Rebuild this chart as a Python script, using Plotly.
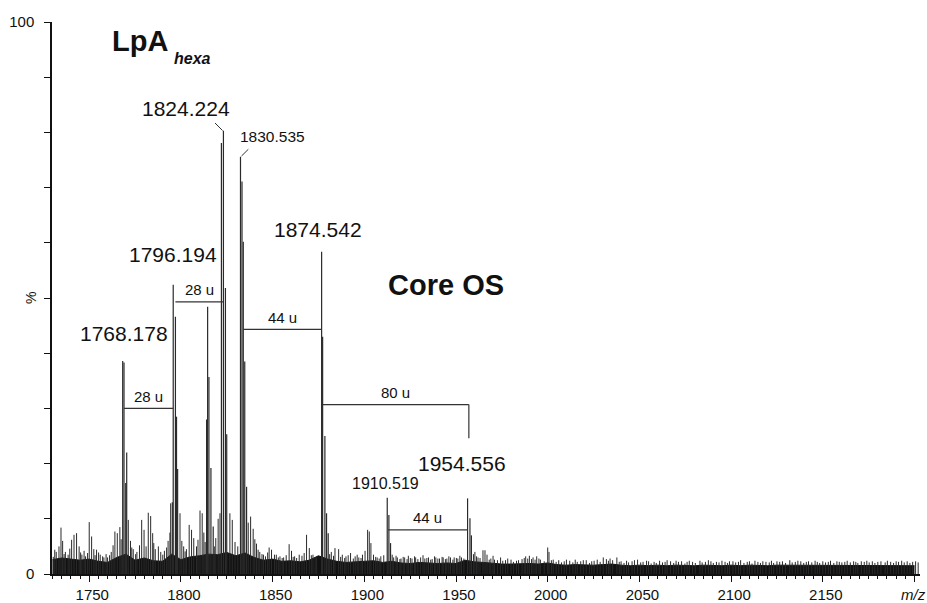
import plotly.graph_objects as go

# ---------------- data ----------------
# main peak sticks (m/z, relative intensity %)
peak_mz = [1768.25, 1768.96, 1769.90, 1770.43,
           1795.30, 1795.80, 1797.00, 1797.60, 1798.20,
           1814.00, 1814.56, 1815.27, 1816.36, 1817.60,
           1822.08, 1823.17, 1824.26, 1824.97,
           1832.48, 1833.30, 1834.00, 1834.80, 1835.80,
           1876.72, 1877.27, 1878.50, 1879.40, 1880.30,
           1912.50, 1913.40, 1914.30,
           1956.30, 1957.60, 1958.40]
peak_pct = [38.6, 38.3, 16.5, 22.0,
            13.0, 52.4, 46.6, 28.5, 19.0,
            28.0, 48.4, 35.7, 19.2, 8.6,
            78.1, 80.3, 51.8, 25.3,
            75.6, 71.1, 60.2, 38.5, 15.8,
            58.4, 43.0, 25.0, 11.0, 7.4,
            13.8, 10.7, 5.6,
            13.7, 10.1, 7.0]

# minor noise spikes
noise_mz = [1730.4, 1731.2, 1732.0, 1733.5, 1734.6, 1735.5, 1736.3, 1737.0, 1738.5, 1739.4,
            1740.4, 1741.7, 1743.1, 1744.5, 1745.3, 1746.0, 1747.2, 1748.0, 1749.1, 1750.0,
            1751.3, 1752.5, 1753.2, 1754.0, 1755.1, 1756.0, 1757.3, 1758.0, 1759.2, 1760.0,
            1761.1, 1762.0, 1763.0, 1764.0, 1765.3, 1766.7, 1767.4, 1771.3, 1772.5, 1773.2,
            1774.0, 1775.3, 1776.0, 1777.4, 1778.6, 1779.9, 1781.0, 1782.2, 1783.5, 1784.6,
            1785.2, 1786.0, 1787.7, 1789.0, 1790.1, 1791.0, 1792.2, 1793.0, 1794.0, 1794.4,
            1799.5, 1800.5, 1801.5, 1802.3, 1803.0, 1804.5, 1805.8, 1807.0, 1808.5, 1809.3,
            1810.4, 1811.6, 1812.5, 1813.2, 1818.2, 1819.0, 1820.3, 1821.3, 1826.7, 1828.0,
            1829.5, 1831.0, 1836.7, 1838.0, 1839.4, 1840.3, 1841.2, 1842.1, 1843.0, 1844.2,
            1845.0, 1846.1, 1847.3, 1848.1, 1849.4, 1851.0, 1852.0, 1853.1, 1854.0, 1855.2,
            1856.0, 1857.4, 1859.0, 1860.3, 1861.2, 1862.0, 1863.1, 1864.5, 1866.0, 1867.2,
            1868.5, 1870.0, 1871.1, 1872.0, 1873.2, 1874.0, 1881.1, 1882.0, 1883.2, 1884.0,
            1886.0, 1887.1, 1888.0, 1889.3, 1890.0, 1891.2, 1892.5, 1894.0, 1895.0, 1896.1,
            1897.0, 1898.2, 1899.0, 1900.4, 1901.8, 1902.7, 1903.6, 1905.0, 1906.2, 1907.0,
            1908.1, 1909.0, 1910.6, 1915.2, 1916.0, 1917.3, 1918.0, 1919.4, 1920.0, 1921.2,
            1922.0, 1923.3, 1924.0, 1925.1, 1926.0, 1927.4, 1928.0, 1929.2, 1930.7, 1932.0,
            1933.0, 1934.1, 1935.0, 1936.2, 1937.0, 1938.3, 1939.0, 1940.1, 1941.0, 1942.4,
            1943.0, 1944.2, 1945.0, 1946.1, 1947.0, 1948.3, 1949.0, 1950.2, 1951.0, 1952.1,
            1953.0, 1954.3, 1959.5, 1960.3, 1961.2, 1962.0, 1963.1, 1964.7, 1965.8, 1966.9,
            1968.1, 1969.0, 1970.2, 1971.0, 1972.6, 1974.3, 1975.5, 1977.0, 1978.2, 1980.0,
            1981.3, 1983.0, 1984.1, 1986.0, 1987.2, 1988.0, 1989.1, 1990.0, 1991.2, 1992.0,
            1993.1, 1994.0, 1995.2, 1996.0, 1998.1, 2000.0, 2000.7, 2002.0, 2003.0, 2004.6,
            2006.0, 2007.5, 2009.0, 2010.2, 2012.0, 2013.7, 2015.0, 2016.1, 2018.0, 2019.4,
            2021.0, 2022.8, 2024.0, 2025.3, 2027.0, 2028.6, 2030.3, 2032.0, 2033.1, 2034.0,
            2035.4, 2037.7, 2039.0, 2040.0, 2041.6, 2043.0, 2044.1, 2046.0, 2047.3, 2049.0,
            2050.7, 2052.0, 2053.9, 2055.0, 2056.4, 2058.0, 2059.2, 2061.0, 2062.6, 2064.0,
            2065.1, 2067.0, 2068.7, 2070.0, 2071.3, 2073.0, 2074.8, 2076.0, 2077.2, 2079.0,
            2080.5, 2083.0, 2084.2, 2086.0, 2087.6, 2089.0, 2090.3, 2092.0, 2093.4, 2095.0,
            2096.7, 2098.0, 2099.1, 2101.0, 2102.5, 2104.0, 2105.2, 2107.0, 2108.8, 2110.0,
            2111.4, 2113.0, 2114.6, 2116.0, 2117.3, 2119.0, 2120.8, 2122.0, 2123.2, 2125.0,
            2126.5, 2128.0, 2129.7, 2132.0, 2133.3, 2135.0, 2136.4, 2138.0, 2139.6, 2141.0,
            2142.2, 2144.0, 2145.8, 2147.0, 2148.3, 2150.0, 2151.5, 2153.0, 2154.2, 2156.0,
            2157.7, 2159.0, 2160.4, 2162.0, 2163.3, 2165.0, 2166.8, 2168.0, 2169.1, 2171.0,
            2172.6, 2174.0, 2175.3, 2177.0, 2178.4, 2180.0, 2181.7, 2184.0, 2185.2, 2187.0,
            2188.6, 2190.0, 2191.3, 2193.0, 2194.4, 2196.0, 2197.5, 2199.0, 2200.6, 2202.0]
noise_pct = [3.1, 4.4, 4.0, 5.0, 8.4, 6.0, 3.6, 4.0, 3.5, 4.6,
             6.2, 7.1, 7.4, 5.0, 3.9, 3.5, 4.2, 3.2, 3.8, 9.4,
             6.8, 4.5, 3.4, 4.4, 3.9, 3.5, 3.2, 3.0, 3.6, 3.0,
             3.4, 4.0, 5.2, 7.7, 7.4, 8.5, 6.3, 9.8, 6.0, 4.8,
             4.5, 3.6, 4.0, 5.2, 9.8, 8.0, 5.0, 11.1, 10.5, 7.4,
             5.6, 4.5, 5.0, 4.0, 3.5, 4.2, 4.8, 6.0, 7.5, 12.8,
             11.0, 6.0, 5.0, 4.1, 4.5, 8.9, 8.0, 6.5, 5.0, 6.2,
             11.5, 11.0, 7.5, 5.8, 5.0, 6.5, 10.0, 11.0, 11.0, 9.8,
             5.8, 5.0, 9.3, 10.4, 8.2, 6.3, 5.5, 4.4, 4.0, 3.6,
             3.5, 3.2, 3.9, 4.8, 4.4, 3.5, 3.5, 3.0, 3.2, 2.9,
             3.0, 3.4, 5.4, 4.2, 3.1, 3.2, 2.9, 3.5, 3.3, 3.8,
             7.1, 4.7, 3.4, 3.5, 2.9, 3.0, 3.6, 4.0, 3.3, 4.7,
             4.5, 3.1, 3.5, 2.9, 3.2, 3.4, 3.8, 2.8, 3.2, 3.5,
             3.0, 2.9, 3.5, 4.2, 8.0, 7.7, 5.6, 3.5, 3.1, 3.0,
             2.8, 3.2, 3.4, 3.5, 3.0, 3.3, 3.0, 2.7, 2.8, 3.1,
             3.0, 2.7, 3.3, 2.9, 2.8, 3.2, 3.0, 2.7, 3.0, 3.4,
             2.8, 2.9, 3.0, 2.6, 2.7, 3.2, 3.0, 2.8, 2.8, 3.1,
             3.0, 2.7, 2.8, 3.2, 3.0, 2.6, 3.0, 2.9, 2.8, 3.3,
             3.0, 2.8, 3.6, 4.0, 3.2, 3.0, 2.9, 4.3, 4.3, 3.5,
             2.6, 2.8, 3.3, 2.6, 2.5, 3.0, 2.4, 2.5, 2.8, 2.6,
             2.2, 2.4, 2.5, 2.7, 2.9, 3.2, 2.8, 3.3, 2.7, 3.0,
             2.6, 3.2, 2.8, 2.6, 2.3, 4.8, 4.0, 2.5, 2.6, 2.2,
             2.5, 2.1, 2.3, 2.6, 2.4, 2.1, 2.6, 2.2, 2.3, 2.5,
             2.5, 2.0, 2.3, 2.4, 2.6, 2.2, 3.0, 2.7, 2.4, 2.8,
             2.5, 3.0, 2.2, 2.3, 2.0, 2.4, 2.1, 2.3, 2.5, 2.6,
             2.1, 2.2, 2.4, 2.3, 1.9, 2.2, 2.0, 2.4, 2.1, 2.2,
             2.5, 2.3, 2.0, 2.4, 2.2, 2.3, 1.9, 2.2, 2.4, 2.2,
             2.0, 2.4, 2.1, 2.2, 2.5, 2.3, 2.0, 2.2, 2.1, 2.4,
             2.2, 2.0, 2.3, 2.3, 2.1, 2.2, 2.5, 2.0, 2.2, 2.3,
             1.9, 2.4, 2.2, 2.0, 2.3, 2.2, 2.1, 2.4, 2.0, 2.3,
             2.2, 2.3, 2.0, 2.5, 2.1, 2.2, 2.4, 2.3, 2.0, 2.2,
             2.3, 2.1, 2.4, 2.2, 2.0, 2.3, 2.1, 2.2, 2.4, 2.0,
             2.3, 2.2, 2.1, 2.2, 2.4, 2.1, 2.3, 2.2, 2.0, 2.3,
             2.2, 2.4, 2.1, 2.3, 2.0, 2.2, 2.3, 2.1, 2.4, 2.2,
             2.0, 2.3, 2.2, 2.4, 2.1, 2.3, 2.0, 2.2, 2.3, 2.1]

# dense baseline band (top of the black noise floor), every 5 m/z from 1730
band_start, band_step = 1730, 5
band_pct = [2.6, 2.9, 2.7, 2.5, 2.7, 2.3, 2.1, 3.0, 3.6, 2.5,
            2.9, 2.4, 2.3, 3.6, 2.6, 3.1, 3.3, 3.6, 3.5, 3.9,
            3.3, 3.8, 3.0, 2.5, 2.7, 2.3, 2.4, 2.2, 2.5, 3.3,
            2.7, 2.3, 2.1, 2.2, 2.3, 2.4, 2.1, 2.3, 2.0, 1.9,
            2.1, 2.0, 1.9, 2.0, 1.9, 2.5, 2.2, 2.1, 1.9, 1.8,
            1.8, 1.9, 1.9, 1.8, 2.0, 1.7, 1.6, 1.7, 1.6, 1.6,
            1.7, 1.8, 1.6, 1.5, 1.6, 1.5, 1.6, 1.5, 1.6, 1.5,
            1.5, 1.6, 1.5, 1.5, 1.6, 1.5, 1.6, 1.5, 1.5, 1.6,
            1.6, 1.5, 1.5, 1.6, 1.5, 1.6, 1.5, 1.5, 1.6, 1.5,
            1.5, 1.6, 1.5, 1.6, 1.5]

# labelled peaks
label_text = ["1768.178", "1796.194", "1824.224", "1830.535", "1874.542", "1910.519", "1954.556"]

# mass-difference brackets: (left m/z, right m/z, level %, label)
br_left = [1768.96, 1797.00, 1834.00, 1877.00, 1913.00]
br_right = [1795.80, 1823.17, 1876.72, 1957.00, 1956.30]
br_level = [30.0, 49.3, 44.3, 30.7, 8.0]
br_text = ["28 u", "28 u", "44 u", "80 u", "44 u"]

x_tickvals = [1750, 1800, 1850, 1900, 1950, 2000, 2050, 2100, 2150, 2200]
x_ticktext = ["1750", "1800", "1850", "1900", "1950", "2000", "2050", "2100", "2150", ""]
x_unit = "<i>m/z</i>"
y_tickvals = [0, 10, 20, 30, 40, 50, 60, 70, 80, 90, 100]
y_ticktext = ["0", "", "", "", "", "", "", "", "", "", "100"]

# ---------------- geometry ----------------
W, H = 927, 603
ML, MR, MT, MB = 52, 7, 22, 29
PW, PH = W - ML - MR, H - MT - MB
XR = [1729.7, 2203.0]


def xp(px):  # pixel -> paper
    return (px - ML) / PW


def yp(py):
    return (H - MB - py) / PH


def sticks(mz, pct):
    xs, ys = [], []
    for m, h in zip(mz, pct):
        xs += [m, m, None]
        ys += [0, h, None]
    return xs, ys


fig = go.Figure()

band_mz = [band_start + band_step * i for i in range(len(band_pct))]
fig.add_trace(go.Scatter(x=band_mz, y=band_pct, mode="lines", fill="tozeroy",
                         line=dict(color="#111111", width=1), fillcolor="#111111",
                         hoverinfo="skip"))

nx, ny = sticks(noise_mz, noise_pct)
fig.add_trace(go.Scatter(x=nx, y=ny, mode="lines", line=dict(color="#2a2a2a", width=1),
                         hoverinfo="skip"))

px_, py_ = sticks(peak_mz, peak_pct)
fig.add_trace(go.Scatter(x=px_, y=py_, mode="lines", line=dict(color="#2a2a2a", width=1.2),
                         hoverinfo="skip"))

shapes = []
annots = []
# brackets
for i, (l, r, lv, t) in enumerate(zip(br_left, br_right, br_level, br_text)):
    shapes.append(dict(type="line", xref="x", yref="y", x0=l, x1=r, y0=lv, y1=lv,
                       line=dict(color="#333333", width=1.2)))
    annots.append(dict(x=(l + r) / 2, y=lv, xref="x", yref="y", text=t, showarrow=False,
                       xanchor="center", yanchor="middle", yshift=12,
                       font=dict(size=15, color="#111111")))
# right drop of the 80 u bracket down to the 1954 region
shapes.append(dict(type="line", xref="x", yref="y", x0=br_right[3], x1=br_right[3],
                   y0=br_level[3], y1=24.6, line=dict(color="#333333", width=1.2)))

# peak labels (pixel positions of label centres)
lab_pos = [(124, 333.5, 21), (173.3, 254, 21), (185.5, 108.5, 21), (272, 136, 15.5),
           (318.3, 229, 21), (385, 483.5, 16), (461.7, 463.5, 21)]
for t, (lx, ly, fs) in zip(label_text, lab_pos):
    annots.append(dict(x=xp(lx), y=yp(ly), xref="paper", yref="paper", text=t, showarrow=False,
                       xanchor="center", yanchor="middle", font=dict(size=fs, color="#111111")))
# leader lines
shapes.append(dict(type="line", xref="paper", yref="paper", x0=xp(215), y0=yp(123),
                   x1=xp(222.5), y1=yp(130.5), line=dict(color="#333333", width=1)))
shapes.append(dict(type="line", xref="paper", yref="paper", x0=xp(248.3), y0=yp(149.3),
                   x1=xp(241.5), y1=yp(156), line=dict(color="#333333", width=1)))

# titles
annots.append(dict(x=xp(110), y=yp(51.7), xref="paper", yref="paper", text="<b>LpA</b>",
                   showarrow=False, xanchor="left", yanchor="bottom", yshift=-7,
                   font=dict(size=29, color="#111111")))
annots.append(dict(x=xp(171.5), y=yp(65), xref="paper", yref="paper", text="<b><i>hexa</i></b>",
                   showarrow=False, xanchor="left", yanchor="bottom", yshift=-4,
                   font=dict(size=16, color="#111111")))
annots.append(dict(x=xp(445.5), y=yp(285), xref="paper", yref="paper", text="<b>Core OS</b>",
                   showarrow=False, xanchor="center", yanchor="middle",
                   font=dict(size=29, color="#111111")))
annots.append(dict(x=xp(31), y=yp(298), xref="paper", yref="paper", text="%", textangle=-90,
                   showarrow=False, xanchor="center", yanchor="middle",
                   font=dict(size=14, color="#111111")))
annots.append(dict(x=2200, y=yp(594.5), xref="x", yref="paper", text=x_unit,
                   showarrow=False, xanchor="center", yanchor="middle", xshift=-1,
                   font=dict(size=15, color="#111111")))

minor_x = [v for v in range(1730, 2205, 5) if v % 50 != 0]

fig.update_layout(
    width=W, height=H,
    margin=dict(l=ML, r=MR, t=MT, b=MB, pad=0, autoexpand=False),
    plot_bgcolor="white", paper_bgcolor="white",
    showlegend=False,
    font=dict(family="Liberation Sans, Arial, sans-serif", size=15, color="#111111"),
    shapes=shapes, annotations=annots,
    xaxis=dict(range=XR, showline=True, linecolor="#111111", linewidth=1.5, mirror=False,
               showgrid=False, zeroline=False, automargin=False,
               ticks="outside", ticklen=6, tickwidth=1.3, tickcolor="#111111",
               tickmode="array", tickvals=x_tickvals, ticktext=x_ticktext,
               ticklabelstandoff=0, ticklabelshift=3,
               tickfont=dict(size=15, color="#111111"),
               minor=dict(tickmode="array", tickvals=minor_x, ticks="outside", ticklen=3,
                          tickwidth=1, tickcolor="#111111", showgrid=False)),
    yaxis=dict(range=[0, 100], showline=True, linecolor="#111111", linewidth=1.5,
               showgrid=False, zeroline=False, automargin=False,
               ticks="outside", ticklen=6, tickwidth=1.3, tickcolor="#111111",
               tickmode="array", tickvals=y_tickvals, ticktext=y_ticktext,
               ticklabelstandoff=7,
               tickfont=dict(size=15, color="#111111")),
)

fig.write_html("out.html")
